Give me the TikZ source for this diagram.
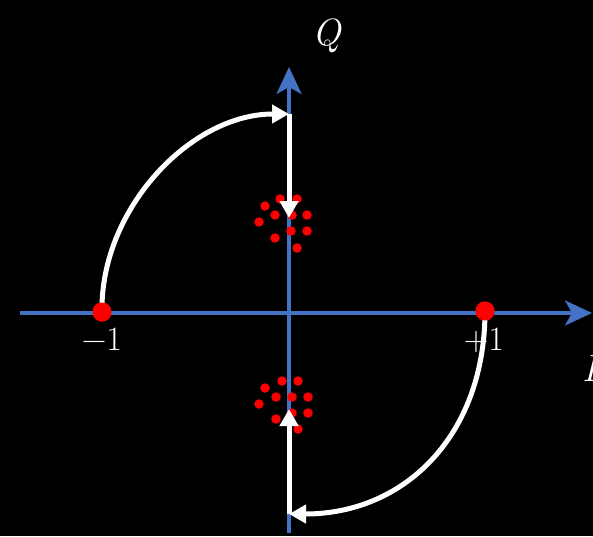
\documentclass[tikz,border=0pt]{standalone}
\usepackage{fontspec}
\usetikzlibrary{arrows.meta}
\definecolor{axisblue}{HTML}{4472C4}
\definecolor{dotred}{HTML}{FF0000}
\begin{document}
\begin{tikzpicture}[x=1pt,y=-1pt,
  axisline/.style={draw=axisblue,line width=3.5pt,-{Stealth[length=27pt,width=25pt,inset=7pt]}},
  movearrow/.style={draw=white,line width=5pt,-{Triangle[length=17pt,width=18pt]}},
  bigdot/.style={circle,fill=dotred,inner sep=0pt,minimum size=19pt},
  smalldot/.style={circle,fill=dotred,inner sep=0pt,minimum size=9.5pt},
  lbl/.style={text=white,inner sep=0pt,font=\fontsize{34}{40}\selectfont}]
\fill[black] (0,0) rectangle (593,536);
\useasboundingbox (0,0) rectangle (593,536);
% axes
\coordinate (xs) at (20,313);
\coordinate (xe) at (592,313);
\coordinate (ys) at (289,533);
\coordinate (ye) at (289,67);
\draw[axisline] (xs) -- (xe);
\draw[axisline] (ys) -- (ye);
% upper cluster
\foreach \i/\x/\y in {1/280/199,2/297/199,3/265/206,4/275/215,5/292/215,6/307/215,7/259/222,8/291/231,9/307/231,10/275/238,11/297/248}
  \node[smalldot] (u\i) at (\x,\y) {};
% lower cluster
\foreach \i/\x/\y in {1/282/381,2/298/381,3/265/388,4/276/397,5/292/397,6/308/397,7/259/404,8/292/413,9/308/413,10/276/419,11/298/429}
  \node[smalldot] (l\i) at (\x,\y) {};
% constellation points
\node[bigdot] (m) at (102,312) {};
\node[bigdot] (p) at (485,311) {};
% path coordinates
\coordinate (qtop) at (289,114);
\coordinate (qin) at (289,218);
\coordinate (qbot) at (289,514);
\coordinate (qin2) at (289,409);
\draw[movearrow] (m.center) .. controls (100,210) and (190,114) .. (qtop);
\draw[movearrow] (p.center) .. controls (485,435) and (405,514) .. (qbot);
\draw[movearrow] (qtop) -- (qin);
\draw[movearrow] (qbot) -- (qin2);
\node[bigdot] at (m) {};
\node[bigdot] at (p) {};
% labels
\node[lbl,anchor=base] (lm) at (102,350) {−1};
\node[lbl,anchor=base] (lp) at (484,350) {+1};
\node[lbl,anchor=base,font=\fontsize{38}{44}\selectfont\itshape] (lq) at (327,45) {Q};
\node[lbl,anchor=base west,font=\fontsize{38}{44}\selectfont\itshape] (li) at (582,381) {I};
\end{tikzpicture}
\end{document}
